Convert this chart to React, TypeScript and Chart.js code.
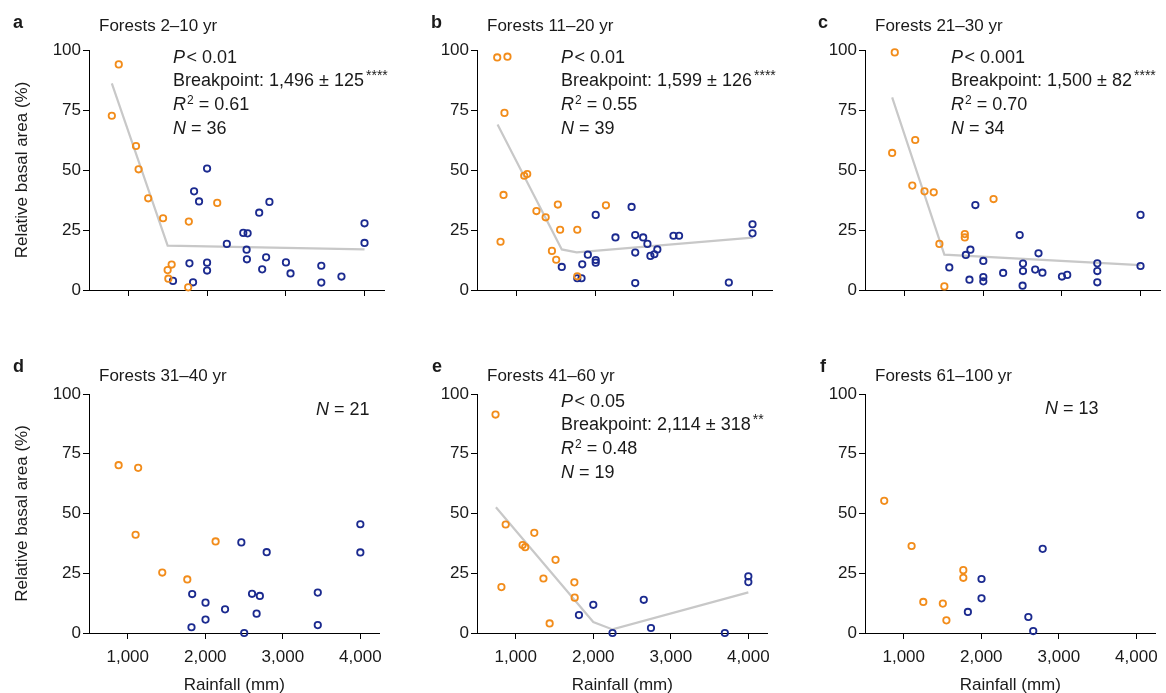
import React, { useEffect, useRef } from "react";
import { Chart, registerables } from "chart.js";

Chart.register(...registerables);

type Pt = [number, number];

const FONT = "'Liberation Sans', Arial, Helvetica, sans-serif";
const ORANGE = "#F28C1A";
const BLUE = "#1B2A8F";
const FIT = "#C8C8C8";
const TEXT = "#1a1a1a";

const xTicks = [1000, 2000, 3000, 4000];
const yTicks = [0, 25, 50, 75, 100];

// Panel a: Forests 2–10 yr
const aDry: Pt[] = [[878, 94], [790, 72.6], [1097, 60], [1130, 50.3], [1252, 38.2], [1441, 29.9], [1768, 28.5], [2129, 36.3], [1499, 8.3], [1550, 10.6], [1508, 4.7], [1760, 1.1]];
const aWet: Pt[] = [[1567, 3.8], [1776, 11.1], [1822, 3.2], [1835, 41.1], [1898, 36.9], [2000, 50.6], [2000, 11.4], [2000, 8.1], [2251, 19.2], [2460, 23.8], [2515, 23.6], [2502, 16.8], [2506, 12.8], [2662, 32.2], [2700, 8.6], [2750, 13.6], [2792, 36.7], [3002, 11.5], [3060, 6.9], [3451, 10.1], [3451, 3.1], [3707, 5.6], [4000, 27.8], [4000, 19.6]];
const aFit: Pt[] = [[790, 86.1], [1499, 18.5], [4000, 16.9]];

// Panel b: Forests 11–20 yr
const bDry: Pt[] = [[757, 96.9], [887, 97.2], [849, 73.8], [837, 39.6], [799, 20.1], [1100, 47.6], [1138, 48.3], [1255, 32.9], [1372, 30.3], [1527, 35.6], [1556, 25.1], [1774, 25.1], [2138, 35.3], [1452, 16.3], [1506, 12.6], [1774, 5.7]];
const bWet: Pt[] = [[1577, 9.6], [1774, 4.9], [1828, 4.9], [1837, 10.7], [1908, 14.7], [2008, 31.3], [2008, 12.5], [2008, 11.4], [2259, 21.9], [2464, 34.6], [2510, 22.9], [2510, 15.6], [2510, 2.9], [2611, 21.9], [2665, 19.2], [2703, 14.2], [2753, 14.9], [2791, 16.9], [2996, 22.6], [3067, 22.6], [3699, 3.1], [4000, 27.4], [4000, 23.6]];
const bFit: Pt[] = [[761, 69], [1577, 16.9], [1766, 15.7], [4000, 21.8]];

// Panel c: Forests 21–30 yr
const cDry: Pt[] = [[878, 99], [845, 57.1], [1138, 62.5], [1101, 43.5], [1256, 41.1], [1373, 40.7], [1445, 19.2], [1508, 1.5], [1768, 23.3], [1768, 21.9], [2133, 37.9]];
const cWet: Pt[] = [[1571, 9.4], [1781, 14.6], [1839, 16.8], [1827, 4.3], [1902, 35.4], [2003, 12.1], [2003, 5.4], [2003, 3.6], [2255, 7.1], [2465, 22.9], [2507, 11], [2507, 7.9], [2502, 1.8], [2662, 8.5], [2704, 15.3], [2754, 7.2], [3002, 5.6], [3069, 6.3], [3451, 11.1], [3451, 7.9], [3451, 3.2], [4000, 31.3], [4000, 10]];
const cFit: Pt[] = [[845, 80.3], [1508, 14.7], [4000, 10.4]];

// Panel d: Forests 31–40 yr
const dDry: Pt[] = [[882, 70.2], [1134, 69.1], [1101, 41.1], [1445, 25.3], [1768, 22.4], [2133, 38.3]];
const dWet: Pt[] = [[1831, 16.3], [1822, 2.4], [2003, 12.7], [2003, 5.6], [2255, 9.9], [2465, 37.9], [2502, 0], [2603, 16.4], [2704, 15.5], [2662, 8.1], [2792, 33.8], [3451, 16.9], [3451, 3.3], [4000, 45.5], [4000, 33.7]];

// Panel e: Forests 41–60 yr
const eDry: Pt[] = [[739, 91.4], [870, 45.4], [815, 19.2], [1088, 36.8], [1122, 35.9], [1239, 41.9], [1357, 22.8], [1513, 30.6], [1437, 4], [1756, 21.2], [1760, 14.8]];
const eWet: Pt[] = [[1815, 7.5], [2000, 11.8], [2248, 0], [2651, 13.9], [2744, 2.1], [3697, 0], [4000, 23.7], [4000, 21.3]];
const eFit: Pt[] = [[744, 52.6], [2000, 4.6], [2248, 1.5], [4000, 17]];

// Panel f: Forests 61–100 yr
const fDry: Pt[] = [[748, 55.3], [1101, 36.4], [1252, 13], [1504, 12.3], [1550, 5.3], [1768, 26.3], [1768, 23.1]];
const fWet: Pt[] = [[1827, 8.8], [2003, 22.6], [2003, 14.5], [2607, 6.7], [2670, 0.8], [2792, 35.2]];

type Seg = { t: string; italic?: boolean; sup?: boolean; supSize?: number; dx?: number };

interface PanelDef {
  letter: string;
  subtitle: string;
  dry: Pt[];
  wet: Pt[];
  fit: Pt[] | null;
  stats: Seg[][];
  statX: number;
  statTop: number;
  letterX: number;
  col: number;
  row: number;
}

const statLines = (p: string, bp: string, stars: string, r2: string, n: string): Seg[][] => [
  [{ t: "P", italic: true }, { t: "< " + p, dx: 1.5 }],
  [{ t: "Breakpoint: " + bp }, { t: stars, sup: true, supSize: 14, dx: 2 }],
  [{ t: "R", italic: true }, { t: "2", sup: true, supSize: 12, dx: 1 }, { t: " = " + r2 }],
  [{ t: "N", italic: true }, { t: " = " + n }],
];

const panels: PanelDef[] = [
  { letter: "a", subtitle: "Forests 2\u201310 yr", dry: aDry, wet: aWet, fit: aFit, stats: statLines("0.01", "1,496 \u00b1 125", "****", "0.61", "36"), statX: 173, statTop: 0, letterX: 13, col: 0, row: 0 },
  { letter: "b", subtitle: "Forests 11\u201320 yr", dry: bDry, wet: bWet, fit: bFit, stats: statLines("0.01", "1,599 \u00b1 126", "****", "0.55", "39"), statX: 173, statTop: 0, letterX: 43, col: 1, row: 0 },
  { letter: "c", subtitle: "Forests 21\u201330 yr", dry: cDry, wet: cWet, fit: cFit, stats: statLines("0.001", "1,500 \u00b1 82", "****", "0.70", "34"), statX: 175, statTop: 0, letterX: 42, col: 2, row: 0 },
  { letter: "d", subtitle: "Forests 31\u201340 yr", dry: dDry, wet: dWet, fit: null, stats: [[{ t: "N", italic: true }, { t: " = 21" }]], statX: 316, statTop: 21, letterX: 13, col: 0, row: 1 },
  { letter: "e", subtitle: "Forests 41\u201360 yr", dry: eDry, wet: eWet, fit: eFit, stats: statLines("0.05", "2,114 \u00b1 318", "**", "0.48", "19"), statX: 173, statTop: 0, letterX: 44, col: 1, row: 1 },
  { letter: "f", subtitle: "Forests 61\u2013100 yr", dry: fDry, wet: fWet, fit: null, stats: [[{ t: "N", italic: true }, { t: " = 13" }]], statX: 269, statTop: 20, letterX: 44, col: 2, row: 1 },
];

const COL_X = [0, 388, 776];
const ROW_Y = [0, 340];
const CANVAS_W = 390;
const ROW_H = [345, 353];
const PLOT_TOP = [50, 54];
const PLOT_BOTTOM = [290, 293];
const Y_AXIS_W = 89;
const PLOT_W = 297.5;
const LETTER_BASE = [28, 32];
const SUB_BASE = [31, 41];
const STAT_OFFSETS = [12.5, 36, 60, 83.5];
const STAT_SIZE = 18;

function drawRich(ctx: CanvasRenderingContext2D, x: number, y: number, segs: Seg[]) {
  let cx = x;
  for (const s of segs) {
    const size = s.sup ? s.supSize || 12 : STAT_SIZE;
    ctx.font = `${s.italic ? "italic " : ""}${size}px ${FONT}`;
    cx += s.dx || 0;
    ctx.fillText(s.t, cx, y + (s.sup ? -6.5 : 0));
    cx += ctx.measureText(s.t).width;
  }
}

function PanelChart({ p }: { p: PanelDef }) {
  const ref = useRef<HTMLCanvasElement | null>(null);
  useEffect(() => {
    const canvas = ref.current;
    if (!canvas) return;
    const row = p.row;
    const h = ROW_H[row];
    const isBottom = row === 1;
    const showY = p.col === 0;
    const xH = h - PLOT_BOTTOM[row];
    const pointStyle = (color: string, order: number) => ({
      pointStyle: "circle",
      pointRadius: 3.2,
      pointBorderWidth: 1.8,
      borderColor: color,
      pointBorderColor: color,
      backgroundColor: "rgba(0,0,0,0)",
      pointBackgroundColor: "rgba(0,0,0,0)",
      order,
      clip: false,
    });
    const datasets: any[] = [
      { data: p.dry.map(([x, y]) => ({ x, y })), ...pointStyle(ORANGE, 1) },
      { data: p.wet.map(([x, y]) => ({ x, y })), ...pointStyle(BLUE, 2) },
    ];
    if (p.fit) {
      datasets.push({
        data: p.fit.map(([x, y]) => ({ x, y })),
        showLine: true,
        pointRadius: 0,
        borderColor: FIT,
        borderWidth: 2.2,
        tension: 0,
        order: 5,
        clip: false,
      });
    }
    const annot = {
      id: "annot",
      afterDraw(chart: any) {
        const ctx: CanvasRenderingContext2D = chart.ctx;
        const top = chart.chartArea.top;
        ctx.save();
        ctx.fillStyle = TEXT;
        ctx.textBaseline = "alphabetic";
        ctx.textAlign = "left";
        ctx.font = `bold 18px ${FONT}`;
        ctx.fillText(p.letter, p.letterX, LETTER_BASE[row]);
        ctx.font = `17px ${FONT}`;
        ctx.fillText(p.subtitle, 99, SUB_BASE[row]);
        p.stats.forEach((line, i) => {
          const y = top + (p.stats.length === 1 ? p.statTop : STAT_OFFSETS[i]);
          drawRich(ctx, p.statX, y, line);
        });
        ctx.restore();
      },
    };
    const chart = new Chart(canvas, {
      type: "scatter",
      data: { datasets },
      options: {
        animation: false,
        responsive: false,
        maintainAspectRatio: false,
        events: [],
        layout: {
          padding: { left: 0, right: CANVAS_W - Y_AXIS_W - PLOT_W, top: PLOT_TOP[row], bottom: 0 },
        },
        plugins: {
          legend: { display: false },
          tooltip: { enabled: false },
          title: { display: false },
        },
        scales: {
          x: {
            type: "linear",
            min: 500,
            max: 4250,
            afterBuildTicks: (s: any) => {
              s.ticks = xTicks.map((v) => ({ value: v }));
            },
            afterFit: (s: any) => {
              s.height = xH;
            },
            border: { display: true, color: "#000", width: 1 },
            grid: { display: true, drawOnChartArea: false, drawTicks: true, tickLength: 6, tickColor: "#000", tickWidth: 1 },
            ticks: {
              display: isBottom,
              padding: 8,
              color: TEXT,
              font: { family: FONT, size: 17 },
              maxRotation: 0,
              autoSkip: false,
              callback: (v: any) => Number(v).toLocaleString("en-US"),
            },
            title: {
              display: isBottom,
              text: "Rainfall (mm)",
              color: TEXT,
              font: { family: FONT, size: 17 },
              padding: { top: 0, bottom: -3 },
            },
          },
          y: {
            type: "linear",
            min: 0,
            max: 100,
            afterBuildTicks: (s: any) => {
              s.ticks = yTicks.map((v) => ({ value: v }));
            },
            afterFit: (s: any) => {
              s.width = Y_AXIS_W;
            },
            border: { display: true, color: "#000", width: 1 },
            grid: { display: true, drawOnChartArea: false, drawTicks: true, tickLength: 6, tickColor: "#000", tickWidth: 1 },
            ticks: {
              padding: 2,
              color: TEXT,
              font: { family: FONT, size: 17 },
              callback: (v: any) => String(v),
            },
            title: {
              display: showY,
              text: "Relative basal area (%)",
              color: TEXT,
              font: { family: FONT, size: 17 },
              padding: { top: 12, bottom: 0 },
            },
          },
        },
      } as any,
      plugins: [annot],
    });
    return () => chart.destroy();
  }, [p]);
  const row = p.row;
  return (
    <canvas
      ref={ref}
      width={CANVAS_W}
      height={ROW_H[row]}
      style={{ position: "absolute", left: COL_X[p.col], top: ROW_Y[row], width: CANVAS_W, height: ROW_H[row] }}
    />
  );
}

export default function App() {
  return (
    <div style={{ position: "absolute", left: 0, top: 0, width: 1166, height: 693, background: "#fff", overflow: "hidden" }}>
      {panels.map((p) => (
        <PanelChart key={p.letter} p={p} />
      ))}
    </div>
  );
}
